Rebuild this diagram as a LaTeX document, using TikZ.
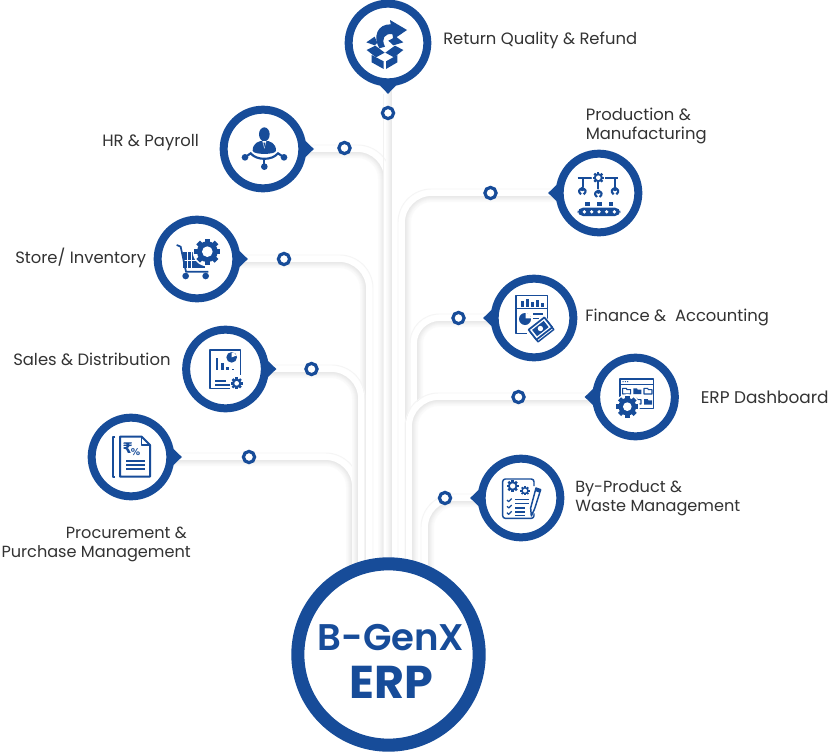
\documentclass[tikz,border=0pt]{standalone}
\usepackage{fontspec}
\setmainfont{Poppins}
\newfontfamily\iconfont{DejaVu Sans}
\newfontfamily\semifont{Poppins SemiBold}
\usetikzlibrary{calc}
\pgfdeclarelayer{bg}
\pgfsetlayers{bg,main}
\definecolor{brandblue}{HTML}{174C99}
\definecolor{labelgray}{HTML}{333333}
\tikzset{
  ringnode/.style={circle,draw=brandblue,fill=white,line width=6pt,minimum size=59pt,inner sep=0pt},
  dotnode/.style={circle,draw=brandblue,fill=white,line width=2.4pt,minimum size=8.4pt,inner sep=0pt},
  lbltext/.style={font=\fontsize{12.3pt}{14.25pt}\selectfont,text=labelgray,inner sep=0pt,align=left},
  lbltight/.style={lbltext,font=\fontsize{12.1pt}{14.25pt}\selectfont},
  lblwide/.style={lbltext,font=\fontsize{12.7pt}{14.25pt}\selectfont},
  iconline/.style={draw=brandblue,line width=1.1pt,line join=round},
  iconthick/.style={draw=brandblue,line width=1.6pt,line cap=round},
  whiteline/.style={draw=white,line width=.7pt}
}
% #1 ring node, #2 y offset of band, #3 foot coordinate, #4 side sign, #5 radius (pt)
\newcommand{\conn}[5]{%
  \foreach \w/\c in {9/1.5,7.5/2.5,6/4,4.5/5.5,3/7,1.5/8.5}{%
    \draw[black!\c,line width=\w pt,rounded corners=#5pt] ($(#1)+(0,#2)$) -| (#3);
  }
  \draw[white,line width=4.6pt,rounded corners=#5pt+2.5pt] ($(#1)+(0,#2-3.2)$) -| ($(#3)+(#4*3.2,0)$);
  \draw[black!4,line width=.7pt,rounded corners=#5pt+5pt] ($(#1)+(0,#2-7)$) -| ($(#3)+(#4*7,0)$);
}
\newcommand{\cogwheel}[4]{%
  \fill[brandblue] (#1,#2) circle ({.8*#3});
  \foreach \a in {0,45,90,135}{%
    \fill[brandblue,shift={(#1,#2)},rotate=\a] ({-.2*#3},{-#3}) rectangle ({.2*#3},{#3});
  }
  \fill[white] (#1,#2) circle (#4);
}
\newcommand{\claw}[2]{%
  \fill[brandblue] (#1,#2-3) circle (6.5);
  \draw[iconline,line width=1.6pt] (#1-4,#2+13) .. controls (#1-14,#2+5) and (#1-10,#2-4) .. (#1,#2-4) .. controls (#1+10,#2-4) and (#1+14,#2+5) .. (#1+4,#2+13);
}
\newcommand{\tipmark}[2]{%
  \fill[brandblue,shift={(#1)},rotate=#2] (14:41) .. controls (9:45) and (4:47) .. (0:51) .. controls (-4:47) and (-9:45) .. (-14:41) -- cycle;
}
\begin{document}
\begin{tikzpicture}[x=.75pt,y=-.75pt]
\useasboundingbox (0,0) rectangle (829,753);
\begin{pgfonlayer}{bg}
\fill[white] (0,0) rectangle (829,753);
\end{pgfonlayer}

% rings
\node[ringnode] (top) at (388,43) {};
\node[ringnode] (hr) at (263,149) {};
\node[ringnode] (store) at (197,259) {};
\node[ringnode] (sales) at (225.5,369) {};
\node[ringnode] (proc) at (131,457) {};
\node[ringnode] (prod) at (599,193) {};
\node[ringnode] (fin) at (534,318) {};
\node[ringnode] (dash) at (635.5,397) {};
\node[ringnode] (waste) at (521,498) {};
\node[circle,draw=brandblue,fill=white,line width=9.8pt,minimum size=136pt,inner sep=0pt] (erp) at (388.5,654.5) {};

% connector feet behind the ERP ring
\coordinate (ftop) at (392,600);
\coordinate (fhr) at (384,600);
\coordinate (fstore) at (366,600);
\coordinate (fsales) at (358,600);
\coordinate (fproc) at (352,600);
\coordinate (fprod) at (405,600);
\coordinate (ffin) at (417,410);
\coordinate (fdash) at (412,600);
\coordinate (fwaste) at (428,600);

\begin{pgfonlayer}{bg}
  \conn{hr}{3}{fhr}{1}{20}
  \conn{store}{3}{fstore}{1}{20}
  \conn{proc}{3}{fproc}{1}{20}
  \conn{sales}{3}{fsales}{1}{20}
  \foreach \w/\c in {9/1.5,7.5/2.5,6/4,4.5/5.5,3/7,1.5/8.5}{%
    \draw[black!\c,line width=\w pt] (top.center -| ftop) -- (ftop);
  }
  \draw[white,line width=4.6pt] ($(top.center -| ftop)+(3.2,0)$) -- ($(ftop)+(3.2,0)$);
  \draw[black!5,line width=.7pt] (383,94) -- (383,600);
  \conn{prod}{3}{fprod}{-1}{20}
  \conn{fin}{3}{ffin}{-1}{17}
  \conn{dash}{3}{fdash}{-1}{20}
  \conn{waste}{3}{fwaste}{-1}{20}
\end{pgfonlayer}

% tips
\tipmark{top.center}{-90}
\tipmark{hr.center}{0}
\tipmark{store.center}{0}
\tipmark{sales.center}{0}
\tipmark{proc.center}{0}
\tipmark{prod.center}{180}
\tipmark{fin.center}{180}
\tipmark{dash.center}{180}
\tipmark{waste.center}{180}

% dots on the connectors
\node[dotnode] (dtop) at (388,113) {};
\node[dotnode] (dhr) at (344.5,148) {};
\node[dotnode] (dstore) at (284,259) {};
\node[dotnode] (dsales) at (311.5,369) {};
\node[dotnode] (dproc) at (249,457) {};
\node[dotnode] (dprod) at (490.5,193) {};
\node[dotnode] (dfin) at (458.5,318) {};
\node[dotnode] (ddash) at (518.5,397) {};
\node[dotnode] (dwaste) at (445,498) {};

% labels
\node[lbltext,anchor=base west] (ltop) at (443,44) {Return Quality \& Refund};
\node[lbltext,anchor=base west] (lhr) at (102,146) {HR \& Payroll};
\node[lbltext,anchor=base west] (lstore) at (15,263) {Store/ Inventory};
\node[lbltext,anchor=base west] (lsales) at (13,365) {Sales \& Distribution};
\node[lbltext,anchor=base west] (lprod1) at (585.5,120) {Production \&};
\node[lbltext,anchor=base west] (lprod2) at (585.5,139) {Manufacturing};
\node[lbltext,anchor=base west] (lfin) at (585,321) {Finance \&\ \ Accounting};
\node[lblwide,anchor=base west] (ldash) at (700.5,403) {ERP Dashboard};
\node[lbltight,anchor=base west] (lw1) at (575,492) {By-Product \&};
\node[lbltight,anchor=base west] (lw2) at (575,511) {Waste Management};
\node[lbltight,anchor=base east] (lp1) at (187,538) {Procurement \&};
\node[lbltight,anchor=base east] (lp2) at (191,557) {Purchase Management};

% ERP text
\node[inner sep=0pt,text=brandblue,anchor=base] (tgen) at (391,650.5) {\fontsize{27.8pt}{30pt}\selectfont\semifont B-GenX};
\node[inner sep=0pt,text=brandblue,anchor=base] (terp) at (391,698) {\fontsize{34.5pt}{36pt}\selectfont\bfseries ERP};

% ---- icon: return box
\begin{scope}[shift={(340,0)},x=.25pt,y=-.25pt]
  \fill[brandblue] (95,165) -- (131,184) -- (131,207) -- (95,187) -- cycle;
  \fill[brandblue] (138,184) -- (172,165) -- (172,187) -- (138,207) -- cycle;
  \fill[brandblue] (80,150) -- (106,137) -- (134,158) -- (108,172) -- cycle;
  \fill[brandblue] (190,150) -- (165,137) -- (136,158) -- (162,172) -- cycle;
  \fill[brandblue] (79,127) -- (104,110) -- (112,128) -- (104,136) -- cycle;
  \fill[brandblue] (190,127) -- (168,110) -- (145,122) -- (160,136) -- cycle;
  \fill[brandblue] (118,145) .. controls (98,110) and (112,72) .. (152,73) -- (150,60) -- (201,90) -- (160,118) -- (157,102) .. controls (135,100) and (122,115) .. (135,140) -- cycle;
\end{scope}

% ---- icon: HR
\begin{scope}[shift={(210,100)},x=.25pt,y=-.25pt]
  \fill[brandblue] (163,103) ellipse (16 and 21);
  \fill[brandblue] (128,152) .. controls (128,130) and (145,122) .. (163,122) .. controls (181,122) and (198,130) .. (198,152) .. controls (198,165) and (128,165) .. (128,152) -- cycle;
  \fill[white] (157,123) -- (169,123) -- (163,146) -- cycle;
  \fill[brandblue] (160,128) -- (166,128) -- (163,142) -- cycle;
  \draw[iconthick] (105,172) -- (122,160) .. controls (140,182) and (186,182) .. (204,160) -- (222,172);
  \draw[iconthick] (163,178) -- (163,200);
  \fill[brandblue] (105,172) circle (10);
  \fill[brandblue] (222,172) circle (10);
  \fill[brandblue] (163,200) circle (10);
\end{scope}

% ---- icon: store
\begin{scope}[shift={(150,210)},x=.25pt,y=-.25pt]
  \fill[brandblue] (100,125) rectangle (135,175);
  \fill[brandblue] (135,150) rectangle (165,175);
  \draw[whiteline] (112,125) -- (112,175) (124,125) -- (124,175) (100,150) -- (165,150);
  \fill[white] (172,125) circle (44);
  \cogwheel{172}{125}{39}{16}
  \draw[iconline,line width=1.3pt] (80,105) -- (92,110) -- (108,185) -- (175,185);
  \fill[brandblue] (107,198) circle (10);
  \fill[brandblue] (167,198) circle (10);
\end{scope}

% ---- icon: sales
\begin{scope}[shift={(175,320)},x=.25pt,y=-.25pt]
  \draw[iconline] (197,100) -- (197,165) (165,205) -- (105,205) -- (105,90) -- (197,90) -- (197,100);
  \fill[brandblue] (122,115) rectangle (130,150);
  \fill[brandblue] (138,130) rectangle (146,150);
  \fill[brandblue] (153,140) rectangle (161,150);
  \fill[brandblue] (170,146) rectangle (177,150);
  \fill[brandblue] (170,112) circle (16);
  \fill[white] (170,112) -- (170,97) arc[start angle=-90,end angle=-20,radius=15] -- cycle;
  \fill[brandblue] (120,180) rectangle (152,186);
  \fill[brandblue] (120,193) rectangle (165,199);
  \fill[white] (185,190) circle (20);
  \cogwheel{185}{190}{18}{7}
\end{scope}

% ---- icon: procurement
\begin{scope}[shift={(80,410)},x=.25pt,y=-.25pt]
  \draw[iconline,line width=1.5pt] (106,82) -- (100,82) -- (100,200) -- (106,200);
  \draw[iconline,line width=1.5pt] (120,80) -- (185,80) -- (210,105) -- (210,200) -- (120,200) -- cycle;
  \draw[iconline] (185,80) -- (185,105) -- (210,105);
  \node[inner sep=0pt,text=brandblue] (rupee) at (143,114) {\iconfont\bfseries\fontsize{11pt}{11pt}\selectfont ₹};
  \node[inner sep=0pt,text=brandblue] (pct) at (167,127) {\iconfont\bfseries\fontsize{7pt}{7pt}\selectfont \%};
  \fill[brandblue] (137,149) rectangle (195,155);
  \fill[brandblue] (137,162) rectangle (195,168);
  \fill[brandblue] (137,175) rectangle (195,181);
\end{scope}

% ---- icon: production
\begin{scope}[shift={(545,140)},x=.25pt,y=-.25pt]
  \draw[iconline,line width=1.3pt] (98,113) -- (218,113);
  \fill[white] (160,113) circle (20);
  \cogwheel{160}{113}{17}{7}
  \draw[iconline,line width=1.3pt] (115,113) -- (115,142) (160,130) -- (160,148) (210,113) -- (210,142);
  \claw{112}{150}
  \claw{160}{158}
  \claw{210}{150}
  \fill[brandblue] (121,185) rectangle (135,197);
  \fill[brandblue] (157,185) rectangle (171,197);
  \fill[brandblue] (191,185) rectangle (205,197);
  \fill[brandblue,rounded corners=4pt] (98,203) rectangle (226,228);
  \foreach \x in {118,140,162,185,208}{\fill[white] (\x,215.5) circle (5.5);}
\end{scope}

% ---- icon: finance
\begin{scope}[shift={(480,270)},x=.25pt,y=-.25pt]
  \draw[iconline] (140,190) -- (108,190) -- (108,77) -- (203,77) -- (203,150) (108,115) -- (203,115);
  \fill[brandblue] (124,92) rectangle (132,112);
  \fill[brandblue] (139,88) rectangle (147,112);
  \fill[brandblue] (154,96) rectangle (162,112);
  \fill[brandblue] (169,90) rectangle (177,112);
  \fill[brandblue] (184,98) rectangle (191,112);
  \fill[brandblue] (135,147) circle (18);
  \fill[white] (137,145) -- (137,128) arc[start angle=-90,end angle=0,radius=17] -- cycle;
  \fill[brandblue] (160,130) rectangle (188,135);
  \fill[brandblue] (160,143) rectangle (178,148);
  \begin{scope}[shift={(183,178)},rotate=38]
    \fill[white] (-35,-24) rectangle (35,26);
    \draw[iconline] (-30,-14) rectangle (30,24);
    \fill[white] (-30,-22) rectangle (30,16);
    \draw[iconline,line width=1.3pt] (-30,-22) rectangle (30,16);
    \fill[brandblue] (-22,-15) rectangle (22,9);
    \fill[white] (0,-3) circle (8);
  \end{scope}
\end{scope}

% ---- icon: dashboard
\begin{scope}[shift={(585,350)},x=.25pt,y=-.25pt]
  \draw[iconline] (105,87) rectangle (205,175) (105,103) -- (205,103);
  \foreach \x in {114,121,128}{\fill[brandblue] (\x,95) circle (2);}
  \foreach \x/\y in {113/111,177/111,144/141}{%
    \draw[iconline,line width=.8pt] (\x,\y+4) -- (\x+11,\y+4) -- (\x+13,\y+8) -- (\x+24,\y+8) -- (\x+24,\y+21) -- (\x,\y+21) -- cycle;
  }
  \foreach \x/\y in {145/111,177/143}{%
    \fill[brandblue] (\x,\y+4) -- (\x+11,\y+4) -- (\x+13,\y+8) -- (\x+24,\y+8) -- (\x+24,\y+21) -- (\x,\y+21) -- cycle;
  }
  \fill[white] (127,170) circle (38);
  \cogwheel{127}{170}{33}{13}
\end{scope}

% ---- icon: by-product
\begin{scope}[shift={(470,450)},x=.25pt,y=-.25pt]
  \draw[iconline,rounded corners=2pt] (192,108) -- (192,87) -- (98,87) -- (98,205) -- (192,205) -- (192,190);
  \cogwheel{128}{108}{18}{8}
  \cogwheel{165}{122}{14}{6}
  \draw[iconline,line width=.9pt] (111,150) -- (116,155) -- (125,146) (111,169) -- (116,174) -- (125,165) (111,188) -- (116,193) -- (125,184);
  \fill[brandblue] (135,146) rectangle (178,150);
  \fill[brandblue] (135,158) rectangle (178,162);
  \fill[brandblue] (135,172) rectangle (165,176);
  \fill[brandblue] (135,184) rectangle (165,188);
  \fill[brandblue] (135,195) rectangle (165,199);
  \fill[white] (200,112) -- (215,118) -- (196,178) -- (184,200) -- (180,175) -- cycle;
  \draw[iconline] (198,114) -- (212,119) -- (194,176) -- (184,198) -- (182,174) -- cycle;
  \fill[brandblue] (198,114) -- (212,119) -- (209,128) -- (195,123) -- cycle;
\end{scope}

\end{tikzpicture}
\end{document}
